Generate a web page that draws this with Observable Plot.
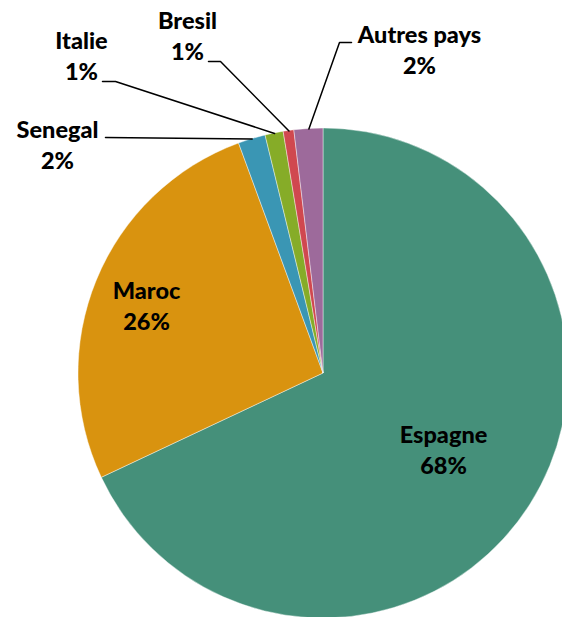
<!DOCTYPE html>
<html><head><meta charset="utf-8">
<script src="https://cdn.jsdelivr.net/npm/d3@7"></script>
<script src="https://cdn.jsdelivr.net/npm/@observablehq/plot@0.6"></script>
<style>body{margin:0;background:#fff;overflow:hidden} svg{display:block;overflow:hidden}</style>
</head><body><div id="chart"></div>
<script>
// ---- data ----
const countries = ["Espagne", "Maroc", "Senegal", "Italie", "Bresil", "Autres pays"];
const shares = [68.0, 26.4, 1.8, 1.2, 0.7, 1.9];
const colors = ["#45907a", "#d9930f", "#3a96b4", "#86ac28", "#d0484f", "#9d6a9b"];

// ---- layout ----
const W = 562, H = 617, CX = 323, CY = 373, R = 245;
const labelPos = [[443, 442], [146, 298], [57, 137], [81, 48], [187, 28], [419, 42]];
const leaderPts = [null, null, [[105, 137]], [[102, 81], [115, 81]], [[208, 61], [220, 61]], [[351, 42], [339, 42]]];
const FONT = "Lato";

const arcs = d3.pie().sort(null).value(d => d)(shares);
const table = countries.map((c, i) => ({country: c, share: shares[i], pct: Math.round(shares[i]) + "%", color: colors[i], arc: arcs[i], mid: (arcs[i].startAngle + arcs[i].endAngle) / 2}));

const texts = [];
table.forEach((d, i) => {
  texts.push({x: labelPos[i][0], y: labelPos[i][1], t: d.country});
  texts.push({x: labelPos[i][0], y: labelPos[i][1] + 31, t: d.pct});
});
const lines = [];
table.forEach((d, i) => {
  if (!leaderPts[i]) return;
  leaderPts[i].forEach(p => lines.push({k: i, x: p[0], y: p[1]}));
  lines.push({k: i, x: CX + R * Math.sin(d.mid), y: CY - R * Math.cos(d.mid)});
});

function pieMark(index, scales) {
  const cx = scales.x(CX), cy = scales.y(CY), r = scales.x(CX + R) - scales.x(CX);
  const g = d3.create("svg:g").attr("transform", `translate(${cx},${cy})`);
  const arc = d3.arc().innerRadius(0).outerRadius(r);
  g.selectAll("path").data(table).join("path")
    .attr("d", d => arc(d.arc))
    .attr("fill", d => d.color)
    .attr("stroke", "#fff").attr("stroke-opacity", 0.6).attr("stroke-width", 0.7);
  return g.node();
}

const chart = Plot.plot({
  width: W, height: H, margin: 0,
  x: {domain: [0, W], range: [0, W], axis: null},
  y: {domain: [0, H], range: [0, H], axis: null},
  style: {fontFamily: FONT, background: "#fff"},
  marks: [
    pieMark,
    Plot.line(lines, {x: "x", y: "y", z: "k", stroke: "#000", strokeWidth: 1.5}),
    Plot.text(texts, {x: "x", y: "y", text: "t", textAnchor: "middle", lineAnchor: "bottom", fontSize: 23.5, fontWeight: 900, fill: "#000", fontFamily: FONT})
  ]
});
document.getElementById("chart").append(chart);
</script>
</body></html>
